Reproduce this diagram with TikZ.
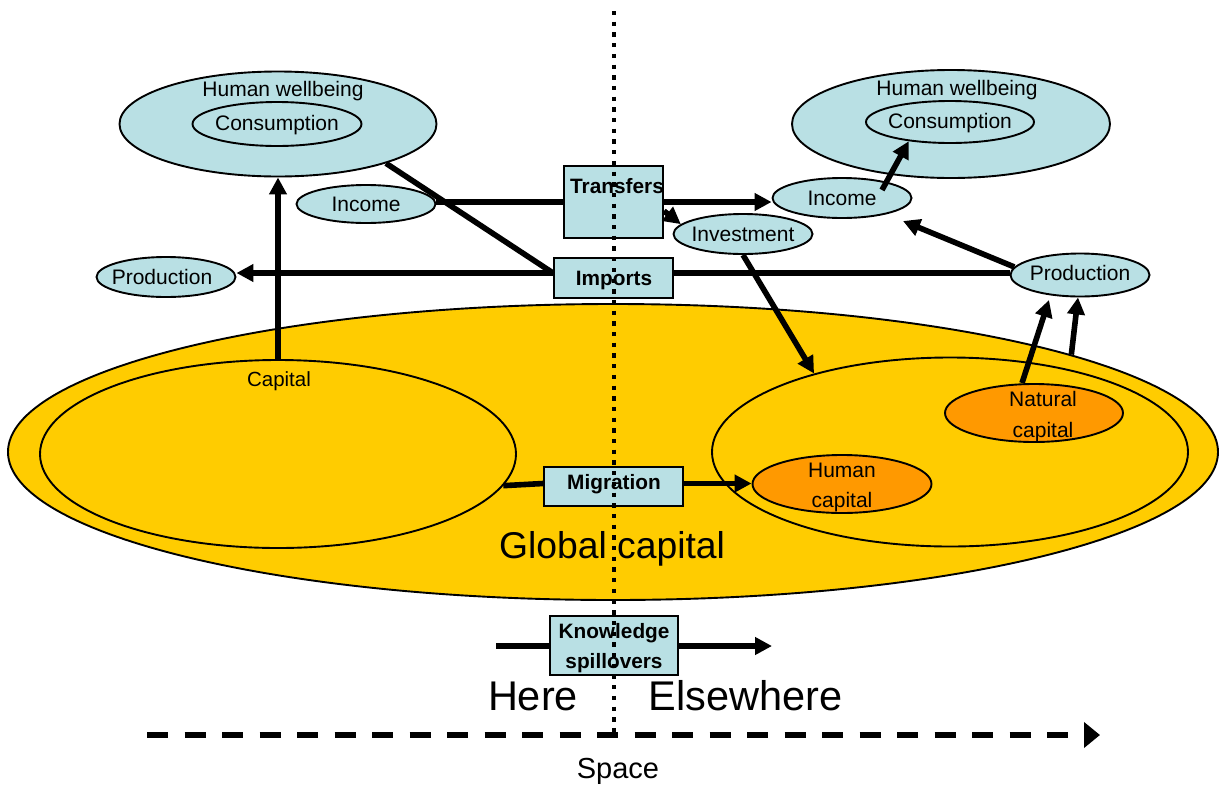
\documentclass[tikz,border=0pt]{standalone}
\usepackage{fontspec}
\setmainfont{Liberation Sans}
\usetikzlibrary{shapes.geometric,arrows.meta}
\definecolor{lblue}{HTML}{B9E0E4}
\definecolor{goldc}{HTML}{FFCC00}
\definecolor{orngc}{HTML}{FF9900}
\begin{document}
\begin{tikzpicture}[x=1pt,y=-1pt,
  ell/.style={ellipse,draw,line width=1.9pt,inner sep=0pt},
  goldell/.style={ell,fill=goldc},
  orell/.style={ell,fill=orngc},
  blueell/.style={ell,fill=lblue},
  boxn/.style={rectangle,draw,line width=1.9pt,fill=lblue,inner sep=0pt},
  lbl/.style={inner sep=0pt,anchor=base,font=\fontsize{21}{24}\selectfont},
  blbl/.style={lbl,font=\fontsize{20.8}{24}\selectfont\bfseries},
  conn/.style={line width=5.6pt},
  arr/.style={conn,-{Triangle[length=17pt,width=17pt]}}
]
\useasboundingbox (0,0) rectangle (1224,785);

% capital ellipses
\node[goldell,minimum width=1210,minimum height=296] (glob) at (613,452) {};
\node[goldell,minimum width=476,minimum height=188] (capL) at (278,454) {};
\node[goldell,minimum width=476,minimum height=189] (capR) at (950,452) {};
\node[orell,minimum width=178,minimum height=58] (nat) at (1034,413) {};
\node[orell,minimum width=179,minimum height=58] (hum) at (842,484) {};

% upper ellipses
\node[blueell,minimum width=317,minimum height=105] (hwL) at (278,124) {};
\node[blueell,minimum width=169,minimum height=44] (conL) at (277,124) {};
\node[blueell,minimum width=318,minimum height=108] (hwR) at (951,124) {};
\node[blueell,minimum width=168,minimum height=42] (conR) at (950,122) {};
\node[blueell,minimum width=139,minimum height=38] (incL) at (366,204) {};
\node[blueell,minimum width=139,minimum height=40] (prodL) at (166,277) {};
\node[blueell,minimum width=139,minimum height=40] (inv) at (743,234) {};
\node[blueell,minimum width=139,minimum height=40] (incR) at (842,198) {};
\node[blueell,minimum width=139,minimum height=43] (prodR) at (1080,275) {};

% boxes
\node[boxn,minimum width=99,minimum height=72] (trans) at (613.5,202) {};
\node[boxn,minimum width=119,minimum height=40] (imp) at (613.5,278) {};
\node[boxn,minimum width=139,minimum height=39] (mig) at (613.5,486.5) {};
\node[boxn,minimum width=128,minimum height=59] (know) at (614,645.5) {};

% labels
\node[lbl] (thwL) at (283,96) {Human wellbeing};
\node[lbl] (tconL) at (277,130) {Consumption};
\node[lbl] (thwR) at (957,95) {Human wellbeing};
\node[lbl] (tconR) at (950,128) {Consumption};
\node[lbl] (tincL) at (366,211) {Income};
\node[lbl] (tincR) at (842,205) {Income};
\node[lbl] (tprodL) at (162,284) {Production};
\node[lbl] (tprodR) at (1080,280) {Production};
\node[lbl] (tinv) at (743,241) {Investment};
\node[lbl,font=\fontsize{20.5}{24}\selectfont] (tcap) at (279,386) {Capital};
\node[blbl] (ttrans) at (617,193) {Transfers};
\node[blbl] (timp) at (614,285) {Imports};
\node[blbl] (tmig) at (614,489) {Migration};
\node[blbl] (tknow1) at (614,638) {Knowledge};
\node[blbl] (tknow2) at (614,668) {spillovers};
\node[lbl] (tnat1) at (1043,406) {Natural};
\node[lbl] (tnat2) at (1043,437) {capital};
\node[lbl] (thum1) at (842,477) {Human};
\node[lbl] (thum2) at (842,507) {capital};
\node[lbl,font=\fontsize{37.3}{40}\selectfont] (tglob) at (612,558) {Global capital};
\node[lbl,font=\fontsize{41.5}{44}\selectfont] (there) at (533,710) {Here};
\node[lbl,font=\fontsize{41.5}{44}\selectfont] (telse) at (745.5,710) {Elsewhere};
\node[lbl,font=\fontsize{29}{32}\selectfont] (tspace) at (618,778) {Space};

% helper coordinates
\coordinate (impw) at ([yshift=5pt]imp.west);
\coordinate (impe) at ([yshift=5pt]imp.east);
\coordinate (migw) at ([yshift=3pt]mig.west);
\coordinate (mige) at ([yshift=3pt]mig.east);
\coordinate (incRtip) at (903,221);
\coordinate (natstart) at ([xshift=-12pt]nat.north);
\coordinate (prodRtip1) at ([shift={(-31,25)}]prodR.center);
\coordinate (prodRtip2) at ([xshift=-2pt]prodR.south);
\coordinate (incRstart) at ([shift={(40,-8)}]incR.center);
\coordinate (kstart) at (496,646);
\coordinate (kend) at (772,646);
\coordinate (sp0) at (147,735);
\coordinate (sp1) at (1100,735);
\coordinate (dtop) at (614,11);
\coordinate (dbot) at (614,735);

% connectors
\draw[arr] (capL.north) -- (hwL.south);
\draw[conn] (trans.west) -- (trans.west -| incL.east);
\draw[arr] (trans.east) -- (trans.east -| incR.west);
\draw[arr] ([yshift=-9pt]trans.east) -- (inv.171);
\draw[conn] (hwL.-20) -- (impw);
\draw[arr] (impw) -- (impw -| prodL.east);
\draw[conn] (impe) -- (impe -| prodR.west);
\draw[arr] (prodR.173) -- (incRtip);
\draw[arr] (incRstart) -- (conR.-155);
\draw[arr] (inv.south) -- (capR.150);
\draw[arr] (natstart) -- (prodRtip1);
\draw[arr] (glob.12) -- (prodRtip2);
\draw[conn] (capL.-8) -- (migw);
\draw[arr] (mige) -- (mige -| hum.west);
\draw[conn] (kstart) -- (kstart -| know.west);
\draw[arr] (kend -| know.east) -- (kend);

% space axis and divider
\draw[line width=5.2pt,dash pattern=on 21pt off 16.5pt,-{Triangle[length=16pt,width=25pt]}] (sp0) -- (sp1);
\draw[line width=4.3pt,dash pattern=on 4.3pt off 6.4pt] (dtop) -- (dbot);
\end{tikzpicture}
\end{document}
